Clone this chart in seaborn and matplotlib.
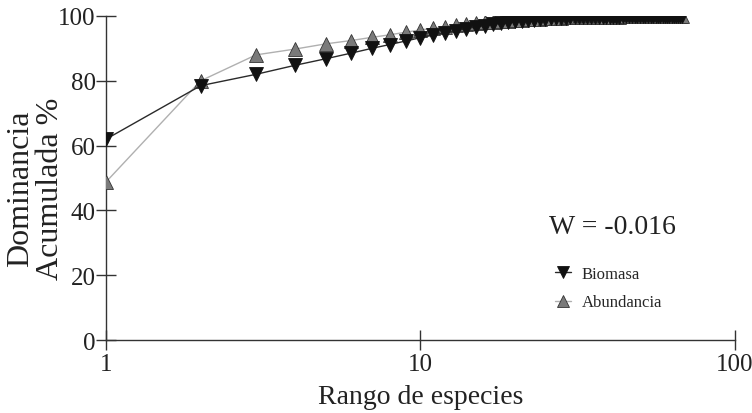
import numpy as np
import pandas as pd
import matplotlib
matplotlib.use('Agg')
import matplotlib.pyplot as plt
import seaborn as sns
from matplotlib.ticker import FixedLocator, NullLocator

# ---------------------------
# Data (cumulative dominance, %)
# ---------------------------
biomasa = [62.0, 78.5, 82.0, 84.8, 86.8, 88.5, 90.0, 91.2, 92.3, 93.3,
           94.1, 94.9, 95.5, 96.1, 96.6, 97.0, 97.4, 97.7, 98.0, 98.3,
           98.5, 98.7, 98.9, 99.05, 99.2, 99.3, 99.4, 99.45, 99.5, 99.55,
           99.6, 99.62, 99.65, 99.68, 99.7, 99.72, 99.74, 99.76, 99.78, 99.8,
           99.81, 99.82, 99.83, 99.84, 99.85, 99.86, 99.87, 99.88, 99.89, 99.9,
           99.91, 99.92, 99.93, 99.94, 99.95, 99.955, 99.96, 99.965, 99.97, 99.975,
           99.98, 99.985, 99.99, 99.992, 99.994, 99.996, 99.998, 100.0]
abundancia = [48.8, 80.0, 88.0, 89.8, 91.4, 92.4, 93.4, 94.2, 95.0, 95.7,
              96.2, 96.7, 97.1, 97.4, 97.7, 98.0, 98.2, 98.4, 98.6, 98.75,
              98.9, 99.0, 99.1, 99.2, 99.28, 99.35, 99.42, 99.48, 99.53, 99.57,
              99.6, 99.63, 99.66, 99.69, 99.71, 99.73, 99.75, 99.77, 99.79, 99.8,
              99.81, 99.82, 99.83, 99.84, 99.85, 99.86, 99.87, 99.88, 99.89, 99.9,
              99.91, 99.92, 99.93, 99.94, 99.95, 99.955, 99.96, 99.965, 99.97, 99.975,
              99.98, 99.985, 99.99, 99.992, 99.994, 99.996, 99.998, 100.0]
rango = list(range(1, len(biomasa) + 1))

x_ticks = [1, 10, 100]
x_tick_labels = ['1', '10', '100']
y_ticks = [0, 20, 40, 60, 80, 100]

df = pd.DataFrame({'rango': rango, 'Biomasa': biomasa, 'Abundancia': abundancia})

sns.set_theme(style='white')
plt.rcParams['font.family'] = ['Liberation Serif', 'DejaVu Serif']

fig = plt.figure(figsize=(7.52, 4.14), dpi=100)
ax = fig.add_axes([0.141, 0.176, 0.836, 0.783])

sns.lineplot(data=df, x='rango', y='Abundancia', ax=ax, color='#b0b0b0', lw=1.0,
             marker='^', markersize=10, markerfacecolor='#7a7a7a',
             markeredgecolor='#333333', markeredgewidth=0.6, label='Abundancia', zorder=2)
sns.lineplot(data=df, x='rango', y='Biomasa', ax=ax, color='#2a2a2a', lw=1.0,
             marker='v', markersize=10, markerfacecolor='#111111',
             markeredgecolor='#111111', markeredgewidth=0.6, label='Biomasa', zorder=3)

ax.set_xscale('log')
ax.set_xlim(1, 100)
ax.set_ylim(0, 100)
ax.xaxis.set_major_locator(FixedLocator(x_ticks))
ax.xaxis.set_minor_locator(NullLocator())
ax.set_xticklabels(x_tick_labels)
ax.set_yticks(y_ticks)

for side in ['top', 'right']:
    ax.spines[side].set_visible(False)
for side in ['left', 'bottom']:
    ax.spines[side].set_color('#333333')
    ax.spines[side].set_linewidth(1.0)
ax.spines['left'].set_zorder(1)
ax.spines['bottom'].set_zorder(1)

ax.tick_params(axis='both', which='major', direction='inout', length=15, width=1.0,
               color='#333333', labelsize=18, labelcolor='#222222', pad=0,
               bottom=True, left=True)
ax.tick_params(axis='x', pad=2)
ax.set_xlabel('Rango de especies', fontsize=20, color='#222222', labelpad=6)
ax.set_ylabel('Dominancia\nAcumulada %', fontsize=23, color='#222222',
              linespacing=1.0)
ax.yaxis.set_label_coords(-0.066, 0.47)

ax.text(0.704, 0.33, 'W = -0.016', transform=ax.transAxes, fontsize=20, color='#222222')

handles, labels = ax.get_legend_handles_labels()
order = [labels.index('Biomasa'), labels.index('Abundancia')]
ax.legend([handles[i] for i in order], [labels[i] for i in order],
          loc='upper left', bbox_to_anchor=(0.69, 0.275), frameon=False,
          fontsize=12, handlelength=1.0, markerscale=0.85, labelspacing=0.75,
          handletextpad=0.6)

fig.savefig('out.png', dpi=100)
